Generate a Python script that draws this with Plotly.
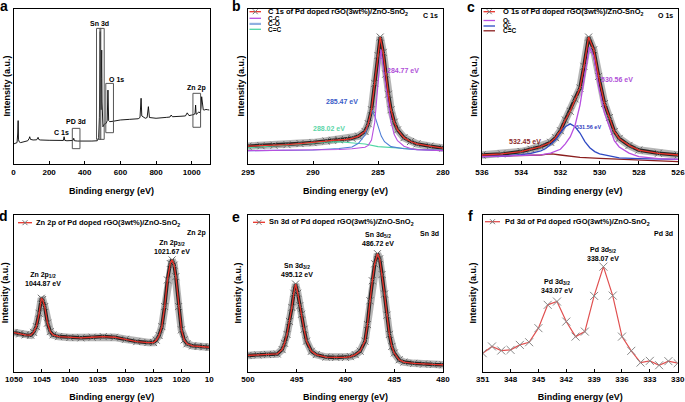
import plotly.graph_objects as go

W, H = 685, 402
FONT = "Liberation Sans, Arial, Helvetica, sans-serif"

# ---------------- data ----------------
# (a) survey spectrum
survey_be = [0, 10, 20, 24, 26, 28, 31, 40, 60, 80, 88, 91, 95, 110, 130, 138, 142, 150, 200, 250,
             280, 284, 288, 300, 320, 334, 338, 342, 360, 400, 440, 470, 478, 482, 485, 487, 489, 491,
             493, 495, 497, 499, 502, 510, 520, 526, 530, 534, 540, 560, 600, 650, 700, 710, 716, 720,
             740, 750, 757, 763, 800, 860, 878, 885, 892, 940, 965, 975, 985, 1000, 1015, 1019, 1022,
             1025, 1030, 1040, 1048, 1052, 1056, 1060, 1065, 1070, 1080, 1090, 1100]
survey_int = [12.9, 13.3, 13.8, 20.0, 28.0, 16.0, 14.4, 13.8, 14.2, 15.0, 16.5, 17.6, 15.9, 15.5, 15.6,
              17.2, 15.8, 15.5, 15.3, 15.1, 15.2, 17.6, 15.2, 15.0, 15.0, 15.2, 16.6, 15.0, 14.8, 14.6,
              14.8, 15.0, 17.0, 30.0, 60.0, 85.4, 45.0, 35.0, 55.0, 73.5, 40.0, 30.0, 24.0, 25.8, 26.2,
              28.0, 47.7, 28.0, 27.3, 27.6, 28.4, 28.8, 29.2, 30.0, 42.4, 31.0, 29.5, 30.0, 37.0, 30.0,
              29.5, 30.1, 30.3, 31.6, 30.5, 30.8, 31.0, 33.0, 31.2, 31.6, 32.0, 33.0, 38.0, 32.0, 32.5,
              33.5, 33.0, 36.0, 43.4, 37.0, 35.0, 34.8, 35.2, 35.0, 34.8]
survey_labels = ["Sn 3d", "O 1s", "PD 3d", "C 1s", "Zn 2p"]
survey_label_be = [485, 579, 350, 271, 1026]
survey_label_int = [90.7, 54.6, 27.3, 20.4, 48.8]
# boxes: (be0, be1, int0, int1)
survey_box_be0 = [466, 485, 518, 330, 1007]
survey_box_be1 = [490, 509, 561, 373, 1050]
survey_box_i0 = [15.9, 15.9, 20.2, 9.9, 23.7]
survey_box_i1 = [87.5, 87.5, 52.0, 23.0, 45.6]

# (b) C 1s
c1s_be = [295.0, 294.0, 293.0, 292.0, 291.0, 290.0, 289.0, 288.5, 288.0, 287.5, 287.0, 286.5, 286.0,
          285.75, 285.5, 285.25, 285.0, 284.83, 284.6, 284.4, 284.2, 284.0, 283.75, 283.5, 283.0,
          282.5, 282.0, 281.0, 280.0]
c1s_exp = [11.5, 11.8, 12.1, 12.5, 13.2, 13.8, 14.8, 15.3, 15.6, 15.8, 16.6, 18.0, 21.0, 26.0, 35.0,
           52.0, 70.0, 81.9, 72.0, 58.0, 45.0, 35.0, 27.0, 22.0, 17.0, 14.5, 13.0, 11.5, 10.3]
cc_be = [295.0, 292.0, 290.0, 288.0, 287.0, 286.5, 286.0, 285.75, 285.5, 285.25, 285.0, 284.77, 284.5,
         284.25, 284.0, 283.75, 283.5, 283.0, 282.5, 282.0, 281.0, 280.0]
cc_int = [8.6, 8.8, 9.0, 9.4, 9.8, 10.2, 10.8, 12.0, 15.5, 27.0, 52.0, 74.0, 56.0, 40.0, 27.0, 19.0,
          15.0, 11.5, 10.0, 9.3, 8.8, 8.6]
co_be = [295.0, 292.0, 290.0, 288.0, 287.0, 286.5, 286.0, 285.75, 285.47, 285.25, 285.0, 284.75, 284.5,
         284.0, 283.0, 282.0, 280.0]
co_int = [8.6, 8.8, 9.0, 10.0, 11.0, 13.4, 18.7, 26.0, 34.9, 31.0, 24.0, 18.0, 14.4, 11.2, 9.8, 9.3, 8.8]
cdc_be = [295.0, 294.0, 293.0, 292.0, 291.0, 290.0, 289.0, 288.0, 287.0, 286.0, 285.0, 284.0, 283.0,
          282.0, 281.0, 280.0]
cdc_int = [10.5, 11.0, 11.7, 12.3, 13.0, 13.8, 14.2, 14.4, 13.8, 12.9, 11.2, 10.5, 10.0, 9.5, 9.0, 8.6]

# (c) O 1s
o1s_be = [536.0, 535.0, 534.0, 533.5, 533.0, 532.5, 532.25, 532.0, 531.75, 531.5, 531.25, 531.0, 530.8,
          530.56, 530.3, 530.05, 529.75, 529.5, 529.25, 529.0, 528.5, 528.0, 527.0, 526.0]
o1s_exp = [5.8, 6.5, 8.0, 9.5, 11.2, 14.0, 17.0, 21.5, 28.4, 34.0, 42.0, 49.0, 63.0, 81.9, 73.7, 56.5,
           39.0, 30.0, 21.0, 16.5, 12.0, 9.0, 6.9, 5.8]
ol_be = [536.0, 534.0, 533.0, 532.5, 532.0, 531.75, 531.5, 531.25, 531.0, 530.8, 530.52, 530.3, 530.05,
         529.75, 529.5, 529.25, 529.0, 528.5, 528.0, 527.0, 526.0]
ol_int = [4.7, 5.2, 5.9, 7.0, 9.5, 13.0, 17.5, 25.0, 38.0, 54.0, 75.4, 69.4, 50.0, 33.0, 24.0, 15.0,
          11.0, 7.0, 4.7, 3.5, 3.0]
oc_be = [536.0, 535.0, 534.0, 533.5, 533.0, 532.75, 532.5, 532.25, 532.0, 531.75, 531.5, 531.25, 531.0,
         530.75, 530.5, 530.25, 530.0, 529.5, 529.0, 528.0, 526.0]
oc_int = [4.7, 5.0, 6.0, 6.9, 8.5, 10.0, 12.5, 15.5, 20.0, 24.0, 25.9, 24.0, 20.0, 14.5, 10.5, 8.0, 6.5,
          5.0, 4.0, 3.5, 3.0]
ocdc_be = [536.0, 535.0, 534.0, 533.0, 532.75, 532.43, 532.0, 531.5, 531.0, 530.0, 529.0, 528.0, 527.0,
           526.0]
ocdc_int = [4.7, 5.0, 5.3, 5.8, 6.2, 6.5, 5.8, 4.9, 4.3, 3.6, 3.0, 2.5, 2.0, 1.5]

# (d) Zn 2p
zn_be = [1050, 1049, 1048, 1047, 1046.5, 1046, 1045.5, 1045.1, 1044.87, 1044.5, 1044, 1043.5, 1043, 1042,
         1040, 1038, 1036, 1034, 1032, 1030, 1028, 1026, 1025, 1024.5, 1024, 1023.5, 1023, 1022.5, 1022,
         1021.67, 1021.3, 1021, 1020.5, 1020, 1019.5, 1019, 1018, 1017, 1016, 1015]
zn_int = [24.9, 24.0, 23.4, 23.2, 25.0, 28.7, 37.2, 46.8, 46.0, 41.5, 30.9, 25.5, 23.4, 22.3, 21.7, 21.5,
          21.9, 22.3, 21.9, 20.6, 19.1, 18.5, 18.5, 20.0, 23.0, 28.7, 41.5, 58.5, 69.0, 71.3, 68.0, 60.6,
          41.5, 26.6, 20.2, 17.7, 16.4, 16.0, 15.8, 15.5]

# (e) Sn 3d
sn_be = [500, 499, 498, 497, 496.5, 496.25, 496, 495.75, 495.5, 495.3, 495.12, 494.9, 494.7, 494.5,
         494.25, 494, 493.5, 493, 492, 491, 490, 489.5, 489, 488.5, 488, 487.75, 487.5, 487.25, 487,
         486.72, 486.5, 486.25, 486, 485.75, 485.5, 485.25, 485, 484.5, 484, 483, 482, 481, 480]
sn_int = [10.3, 10.6, 10.9, 11.2, 14.0, 18.0, 23.7, 32.0, 40.9, 50.0, 55.9, 50.0, 42.0, 36.6, 27.0, 19.4,
          12.9, 10.8, 9.2, 9.0, 9.0, 9.5, 10.8, 13.0, 19.4, 30.0, 45.2, 58.0, 68.8, 75.3, 72.0, 62.0, 49.5,
          36.0, 23.7, 16.0, 11.8, 7.5, 6.0, 5.2, 4.7, 4.5, 4.3]

# (f) Pd 3d
pd_be = [351, 350, 349, 348, 347, 346, 345, 344, 343, 342, 341, 340, 339, 338, 337, 336, 335, 334, 333,
         332, 331, 330]
pd_int = [11.7, 16.0, 13.4, 13.8, 17.0, 18.7, 27.7, 42.6, 44.7, 31.9, 22.3, 25.5, 48.3, 67.0, 48.5, 22.3,
          13.2, 5.7, 6.8, 4.0, 6.6, 5.3]

# axis ranges / ticks
x_ranges = [[0, 1100], [295, 280], [536, 526], [1050, 1015], [500, 480], [351, 330]]
x_tickvals = [[0, 200, 400, 600, 800, 1000], [295, 290, 285, 280], [536, 534, 532, 530, 528, 526],
              [1050, 1045, 1040, 1035, 1030, 1025, 1020, 1015], [500, 495, 490, 485, 480],
              [351, 348, 345, 342, 339, 336, 333, 330]]
x_ticktext = [["0", "200", "400", "600", "800", "1000"], ["295", "290", "285", "280"],
              ["536", "534", "532", "530", "528", "526"],
              ["1050", "1045", "1040", "1035", "1030", "1025", "1020", "10"],
              ["500", "495", "490", "485", "480"],
              ["351", "348", "345", "342", "339", "336", "333", "330"]]
panel_letters = ["a", "b", "c", "d", "e", "f"]

# ---------------- styling ----------------
RED = "#e8332a"
C_CC = "#b84fe0"
C_CO = "#4f7fd6"
C_CDC = "#4fd6a4"
C_OL = "#b84fe0"
C_OC = "#2f4ac4"
C_ODC = "#8b1e1e"

# plot-area pixel boxes (x0, x1, y0_top, y1_bottom)
boxes = [(13.5, 209.5, 9, 164), (248, 443, 9, 164), (482, 678, 9, 164),
         (14, 209.3, 215, 371.5), (248, 443, 215, 371.5), (482.7, 677.7, 215, 371.5)]
ytitle_x = [6, 240, 473.3, 5, 238.3, 473.3]
xtitle_standoff = [12, 12, 12, 13, 13, 13]


def fx(p):
    return p / W


def fy(p):
    return 1 - p / H


fig = go.Figure()


def ax(i):
    return ("x" if i == 1 else f"x{i}"), ("y" if i == 1 else f"y{i}")


def band(i, xs, ys):
    xa, ya = ax(i)
    fig.add_trace(go.Scatter(x=xs, y=ys, mode="lines", xaxis=xa, yaxis=ya, showlegend=False,
                             line=dict(color="rgba(120,120,120,0.55)", width=7.5), hoverinfo="skip"))
    fig.add_trace(go.Scatter(x=xs, y=ys, mode="lines", xaxis=xa, yaxis=ya, showlegend=False,
                             line=dict(color="rgba(20,20,20,0.9)", width=3.5), hoverinfo="skip"))
    fig.add_trace(go.Scatter(x=xs, y=ys, mode="markers", xaxis=xa, yaxis=ya, showlegend=False,
                             marker=dict(symbol="x-thin", size=7, line=dict(width=1, color="#6a6a6a")),
                             hoverinfo="skip"))


def curve(i, xs, ys, color, width=1.2, name=None):
    xa, ya = ax(i)
    fig.add_trace(go.Scatter(x=xs, y=ys, mode="lines", xaxis=xa, yaxis=ya, name=name, showlegend=False,
                             line=dict(color=color, width=width)))


# (a)
curve(1, survey_be, survey_int, "black", 0.9, "Survey")
# (b)
band(2, c1s_be, c1s_exp)
curve(2, cdc_be, cdc_int, C_CDC, 1.1, "C=C")
curve(2, co_be, co_int, C_CO, 1.1, "C-O")
curve(2, cc_be, cc_int, C_CC, 1.1, "C-C")
curve(2, c1s_be, c1s_exp, RED, 1.3, "C 1s")
# (c)
band(3, o1s_be, o1s_exp)
curve(3, ocdc_be, ocdc_int, C_ODC, 1.3, "C=C")
curve(3, oc_be, oc_int, C_OC, 1.3, "OC")
curve(3, ol_be, ol_int, C_OL, 1.3, "OL")
curve(3, o1s_be, o1s_exp, RED, 1.3, "O 1s")
# (d)
band(4, zn_be, zn_int)
curve(4, zn_be, zn_int, RED, 1.3, "Zn 2p")
# (e)
band(5, sn_be, sn_int)
curve(5, sn_be, sn_int, RED, 1.3, "Sn 3d")
# (f)
xa, ya = ax(6)
fig.add_trace(go.Scatter(x=pd_be, y=pd_int, mode="lines+markers", xaxis=xa, yaxis=ya, showlegend=False,
                         name="Pd 3d", line=dict(color="#e05050", width=1.2),
                         marker=dict(symbol="x-thin", size=8, line=dict(width=1, color="#888888"))))

layout = dict(width=W, height=H, margin=dict(l=0, r=0, t=0, b=0, autoexpand=False),
              paper_bgcolor="white", plot_bgcolor="white", showlegend=False,
              font=dict(family=FONT, size=8, color="black"))

tickfont = dict(family=FONT, size=8, color="black", weight="bold")
titlefont = dict(family=FONT, size=9, color="black", weight="bold")

for i in range(1, 7):
    x0, x1, yt, yb = boxes[i - 1]
    xk = "xaxis" if i == 1 else f"xaxis{i}"
    yk = "yaxis" if i == 1 else f"yaxis{i}"
    xa, ya = ax(i)
    layout[xk] = dict(domain=[fx(x0), fx(x1)], range=x_ranges[i - 1], anchor=ya,
                      showline=True, linecolor="black", linewidth=1, mirror=True,
                      ticks="inside", ticklen=3, tickcolor="black", tickwidth=1,
                      tickvals=x_tickvals[i - 1], ticktext=x_ticktext[i - 1], tickfont=tickfont,
                      ticklabeloverflow="allow",
                      showgrid=False, zeroline=False, automargin=False,
                      title=dict(text="Binding energy (eV)", font=titlefont,
                                 standoff=xtitle_standoff[i - 1]))
    layout[yk] = dict(domain=[fy(yb), fy(yt)], range=[0, 100], anchor=xa,
                      showline=True, linecolor="black", linewidth=1, mirror=True,
                      showticklabels=False, ticks="", showgrid=False, zeroline=False, automargin=False)

fig.update_layout(**layout)

shapes = []
annotations = []

# y-axis titles
for i in range(6):
    x0, x1, yt, yb = boxes[i]
    annotations.append(dict(xref="paper", yref="paper", x=fx(ytitle_x[i]), y=fy((yt + yb) / 2),
                            text="Intensity (a.u.)", textangle=-90, showarrow=False,
                            xanchor="center", yanchor="middle", font=titlefont))

# panel letters
letter_pos = [(4, 5.5), (236, 6.5), (471, 7), (4, 216), (236, 217), (470, 216)]
for (lx, ly), t in zip(letter_pos, panel_letters):
    annotations.append(dict(xref="paper", yref="paper", x=fx(lx), y=fy(ly), text=t, showarrow=False,
                            xanchor="center", yanchor="middle",
                            font=dict(family=FONT, size=14, color="black", weight="bold")))

afont = dict(family=FONT, size=7, color="black", weight="bold")

# (a) boxes and labels
for b0, b1, i0, i1 in zip(survey_box_be0, survey_box_be1, survey_box_i0, survey_box_i1):
    shapes.append(dict(type="rect", xref="x", yref="y", x0=b0, x1=b1, y0=i0, y1=i1,
                       line=dict(color="#555555", width=1)))
for t, bx, by in zip(survey_labels, survey_label_be, survey_label_int):
    annotations.append(dict(xref="x", yref="y", x=bx, y=by, text=t, showarrow=False, font=afont))


# peak labels
def lab(i, x, y, text, color="black", size=7):
    xa, ya = ax(i)
    annotations.append(dict(xref=xa, yref=ya, x=x, y=y, text=text, showarrow=False,
                            font=dict(family=FONT, size=size, color=color, weight="bold")))


lab(2, 283.08, 60, "284.77 eV", "#b050d8")
lab(2, 287.77, 40, "285.47 eV", "#3a5cc8")
lab(2, 288.77, 23, "288.02 eV", "#5cd6a8")
lab(2, 281.0, 96, "C 1s")
lab(3, 529.11, 54.8, "530.56 eV", "#b050d8")
lab(3, 530.59, 23.9, "531.56 eV", "#3040c0", 5.5)
lab(3, 533.81, 14.2, "532.45 eV", "#8b2a2a")
lab(3, 526.66, 96, "O 1s")
lab(4, 1021.7, 79.3, "Zn 2p<sub>3/2</sub><br>1021.67 eV")
lab(4, 1044.75, 59, "Zn 2p<sub>1/2</sub><br>1044.87 eV")
lab(4, 1017.3, 88.3, "Zn 2p")
lab(5, 486.7, 84.5, "Sn 3d<sub>5/2</sub><br>486.72 eV")
lab(5, 495.0, 65, "Sn 3d<sub>3/2</sub><br>495.12 eV")
lab(5, 481.4, 88.2, "Sn 3d")
lab(6, 338.0, 75, "Pd 3d<sub>5/2</sub><br>338.07 eV")
lab(6, 343.03, 54.9, "Pd 3d<sub>3/2</sub><br>343.07 eV")
lab(6, 331.55, 88.3, "Pd 3d")

# compact legends (drawn to match the tight spacing of the original)
lfont = dict(family=FONT, size=7.5, color="black", weight="bold")
sfont = dict(family=FONT, size=6.5, color="black", weight="bold")


def legend_row(x0, x1, y, tx, color, text, width=1.3, xmark=False, font=lfont):
    shapes.append(dict(type="line", xref="paper", yref="paper", x0=fx(x0), x1=fx(x1), y0=fy(y), y1=fy(y),
                       line=dict(color=color, width=width)))
    if xmark:
        cx = (x0 + x1) / 2
        for dy in (-2.5, 2.5):
            shapes.append(dict(type="line", xref="paper", yref="paper", x0=fx(cx - 2.5), x1=fx(cx + 2.5),
                               y0=fy(y - dy), y1=fy(y + dy), line=dict(color="#777777", width=1)))
    annotations.append(dict(xref="paper", yref="paper", x=fx(tx), y=fy(y), text=text, showarrow=False,
                            xanchor="left", yanchor="middle", font=font, borderpad=0))


legend_row(249.5, 261, 11.7, 266.5, RED, "C 1s of Pd doped rGO(3wt%)/ZnO-SnO<sub>2</sub>", xmark=True)
legend_row(249.5, 261, 18.3, 266.5, C_CC, "C-C", font=sfont)
legend_row(249.5, 261, 23.9, 266.5, "#8fb0e0", "C-O", width=2.2, font=sfont)
legend_row(249.5, 261, 29.3, 266.5, C_CDC, "C=C", font=sfont)

legend_row(483.5, 495, 11.7, 501.5, RED, "O 1s of Pd doped rGO(3wt%)/ZnO-SnO<sub>2</sub>", xmark=True)
legend_row(483.5, 495, 20.5, 501.5, C_OL, "O<sub>L</sub>", font=sfont)
legend_row(483.5, 495, 26.0, 501.5, C_OC, "O<sub>C</sub>", font=sfont)
legend_row(483.5, 495, 30.8, 501.5, C_ODC, "C=C", font=sfont)

legend_row(18, 32, 222.7, 35, RED, "Zn 2p of Pd doped rGO(3wt%)/ZnO-SnO<sub>2</sub>", xmark=True)
legend_row(253, 265, 222.3, 268.3, RED, "Sn 3d of Pd doped rGO(3wt%)/ZnO-SnO<sub>2</sub>", xmark=True)
legend_row(485, 500, 221.7, 504.3, "#e05050", "Pd 3d of Pd doped rGO(3wt%)/ZnO-SnO<sub>2</sub>", xmark=True)

fig.update_layout(shapes=shapes, annotations=annotations)
# remove the default page margin so the figure sits at the window's top-left corner
fig.write_html("out.html", config={"displayModeBar": False},
               post_script="document.body.style.margin='0';document.body.style.padding='0';")
